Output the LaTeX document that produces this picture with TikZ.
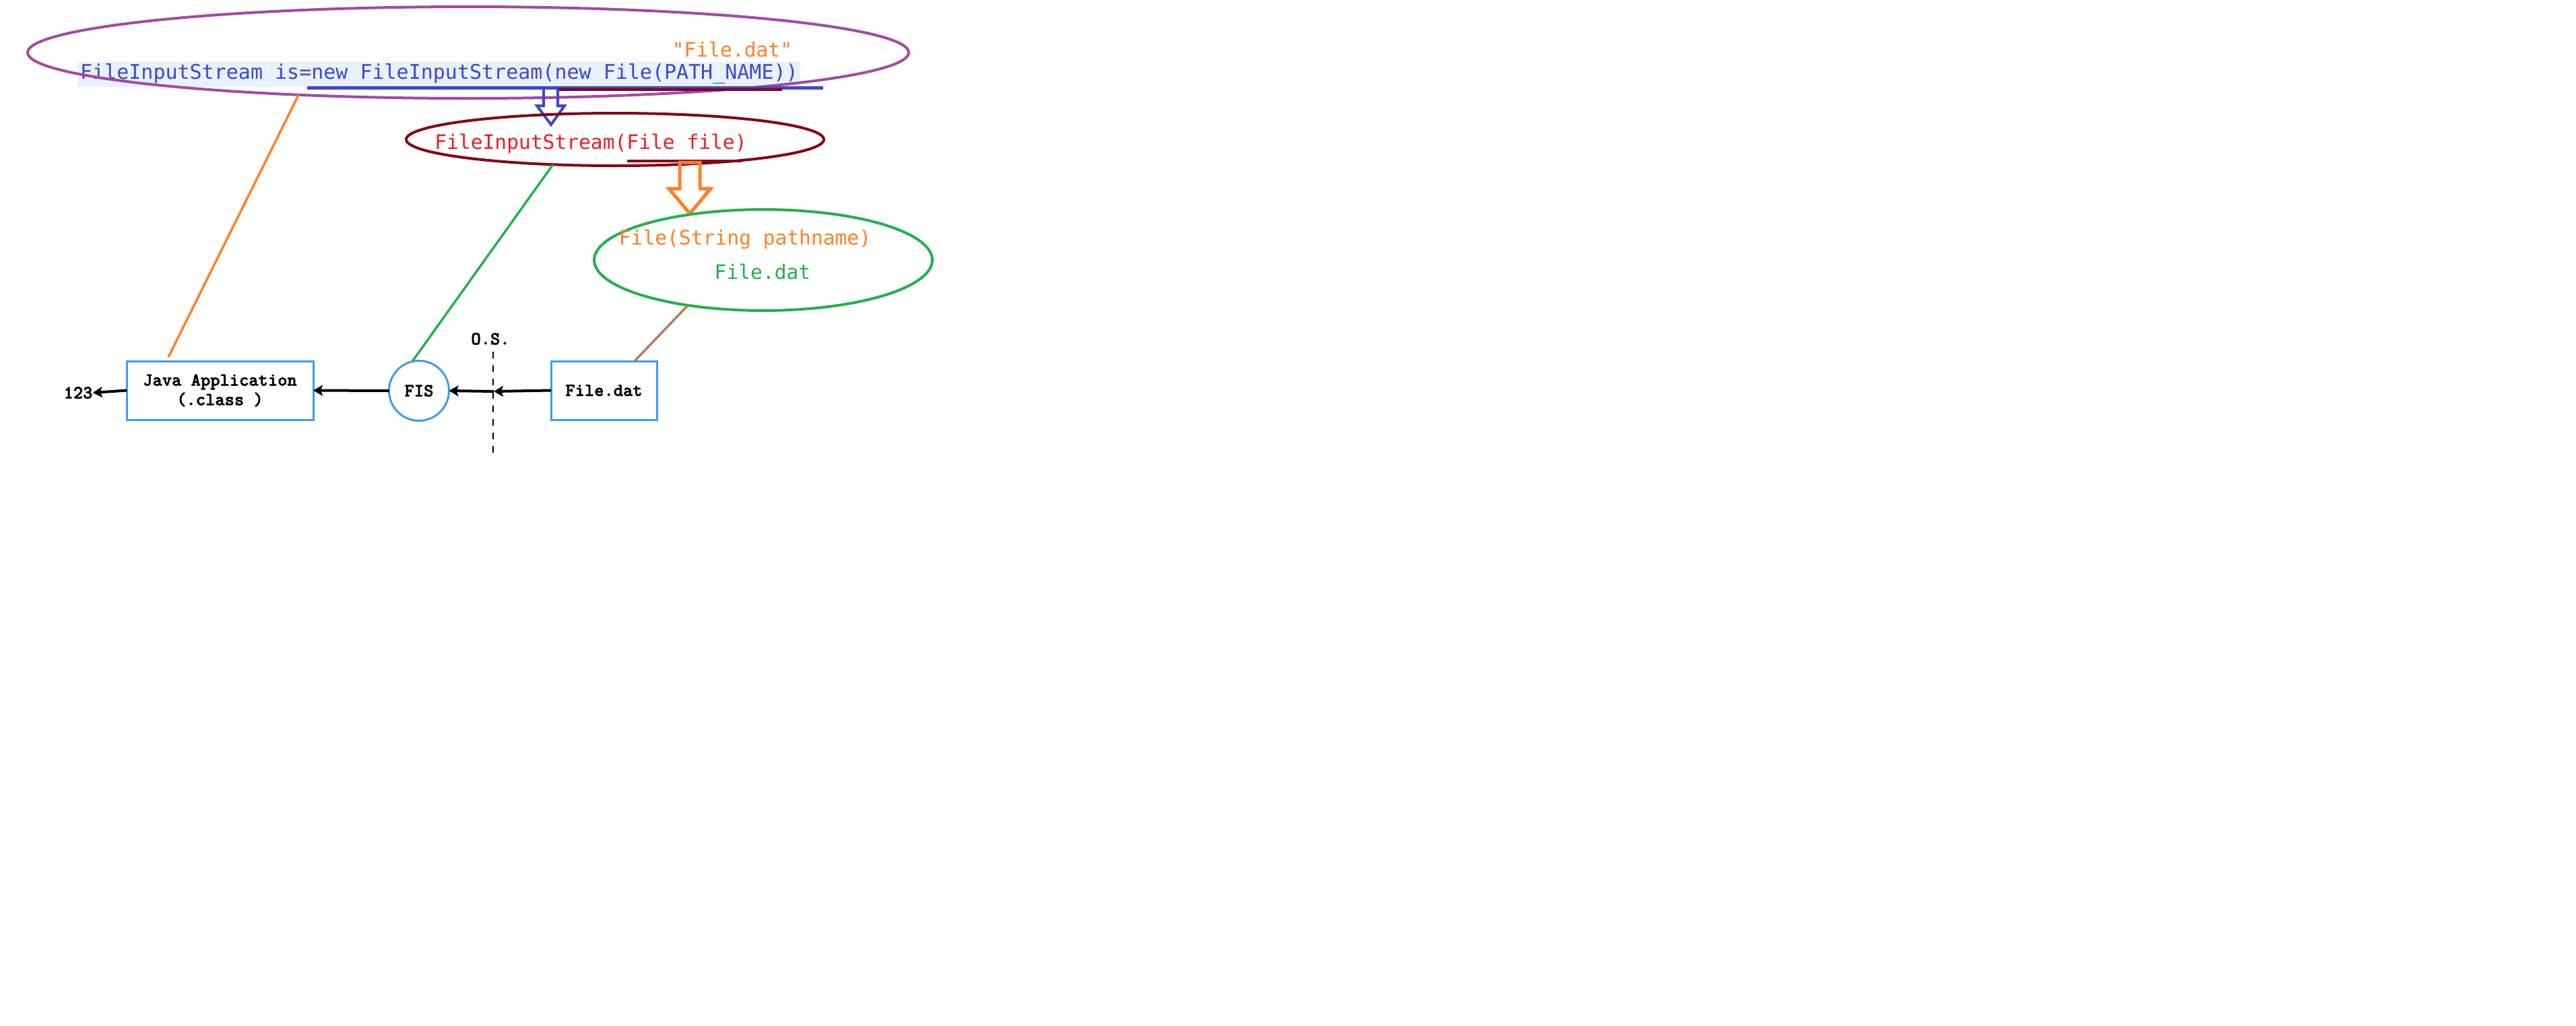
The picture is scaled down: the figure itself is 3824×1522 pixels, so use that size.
\documentclass[tikz,border=0pt]{standalone}
\usepackage{fontspec}
\usetikzlibrary{shapes.geometric,arrows.meta,calc}
\newfontfamily\codefont{DejaVu Sans Mono}
\newfontfamily\lbfont{lmmonolt10-bold.otf}[FakeBold=2]
\definecolor{cpurple}{RGB}{163,73,164}
\definecolor{cblue}{RGB}{63,72,204}
\definecolor{chl}{RGB}{232,241,252}
\definecolor{corange}{RGB}{255,127,39}
\definecolor{cdred}{RGB}{136,0,21}
\definecolor{cred}{RGB}{237,28,36}
\definecolor{cgreen}{RGB}{34,177,76}
\definecolor{cbrown}{RGB}{185,122,87}
\definecolor{cbox}{RGB}{61,156,240}
\begin{document}
\begin{tikzpicture}[x=0.5pt,y=-0.5pt,
  code/.style={font=\codefont\fontsize{15}{18}\selectfont, inner sep=0pt},
  codes/.style={font=\codefont\fontsize{14.8}{18}\selectfont, inner sep=0pt},
  lbl/.style={font=\lbfont\fontsize{13.6}{14.5}\selectfont, inner sep=0pt},
  oval/.style={ellipse, draw, line width=2pt, inner sep=0pt, outer sep=0pt},
  bx/.style={draw=cbox, line width=1.5pt, inner sep=0pt, outer sep=0pt, minimum height=43.5pt},
  arr/.style={line width=2pt, -{Stealth[length=7pt,width=8pt,inset=1.5pt]}},
  link/.style={line width=1.7pt},
  hollow/.style={line join=miter}
]
\useasboundingbox (0,0) rectangle (3824,1522);
\fill[white] (0,0) rectangle (3824,1522);

% top: code line in purple oval
\node[code, fill=chl, text=cblue, minimum height=18.5pt, inner xsep=1.5pt] (codeln) at (652,110) {FileInputStream is=new FileInputStream(new File(PATH\_NAME))};
\node[oval, draw=cpurple, minimum width=654pt, minimum height=68pt] (pe) at (695,78) {};
\node[codes, text=corange] (qfile) at (1087,73) {"File.dat"};
\draw[cblue, line width=2.5pt] (456,130) -- (1222,130);
\draw[cdred, line width=2pt] (828,133) -- (1161,133);
\draw[cblue, hollow, line width=2pt] (807,132) -- (807,157) -- (797,157) -- (818,185) -- (838,157) -- (828,157) -- (828,132);

% FileInputStream(File file)
\node[oval, draw=cdred, minimum width=310pt, minimum height=39pt] (dr) at (913,207) {};
\node[codes, text=cred] (frtxt) at (877,213) {FileInputStream(File file)};
\draw[cdred, line width=2pt] (931,239) -- (1101,239);
\draw[corange, hollow, line width=2.5pt] (1009,241) -- (1009,280) -- (993,280) -- (1024,317) -- (1055,280) -- (1039,280) -- (1039,241) -- cycle;

% File(String pathname)
\node[oval, draw=cgreen, minimum width=251pt, minimum height=75pt] (ge) at (1133,386) {};
\node[codes, text=corange] (fstxt) at (1106,355) {File(String pathname)};
\node[codes, text=cgreen] (fdtxt) at (1132,403) {File.dat};

% bottom row
\node[bx, minimum width=138.5pt, align=center, lbl] (java) at (326.5,579.5) {Java Application\\(.class )};
\node[circle, draw=cbox, line width=1.5pt, minimum size=44.5pt, inner sep=0pt, outer sep=0pt, lbl] (fis) at (622,580) {FIS};
\node[bx, minimum width=78.5pt, lbl] (fd) at (896.5,579.5) {File.dat};
\node[lbl] (n123) at (116,583) {123};
\node[lbl] (os) at (728,503) {O.S.};
\coordinate (os1) at (732,522);
\coordinate (os2) at (732,672);
\coordinate (osm) at (733,581);
\draw[line width=1pt, dash pattern=on 5pt off 5pt] (os1) -- (os2);
\draw[arr] (fd.west) -- (osm);
\draw[arr] (osm) -- (fis.east);
\draw[arr] (fis.west) -- (java.east);
\draw[arr] (java.west) -- (n123.east);

% connectors from ovals to bottom row
\draw[link, corange] (pe.194) -- ($(java.north west)+(62,-6)$);
\draw[link, cgreen] (dr.202) -- (fis.103);
\draw[link, cbrown] (ge.211) -- ($(fd.north west)+(124,0)$);
\end{tikzpicture}
\end{document}
